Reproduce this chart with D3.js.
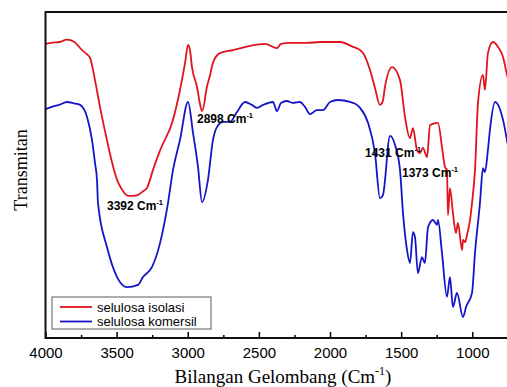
<!DOCTYPE html>
<html>
<head>
<meta charset="utf-8">
<script src="https://cdn.jsdelivr.net/npm/d3@7"></script>
<style>
  body { margin: 0; background: #fff; }
  svg { display: block; }
</style>
</head>
<body>
<div id="chart"></div>
<script>
// wavenumber (cm-1) and transmittance (a.u.)
const isolasiWn = [4000, 3950, 3900, 3849, 3800, 3743, 3708, 3687, 3652, 3617, 3568, 3533, 3497, 3462, 3420, 3385, 3350, 3315, 3287, 3266, 3252, 3195, 3104, 3055, 3019, 2998, 2985, 2970, 2935, 2915, 2900, 2880, 2872, 2844, 2823, 2774, 2682, 2563, 2457, 2373, 2345, 2281, 2162, 2071, 1930, 1839, 1789, 1768, 1719, 1684, 1649, 1630, 1614, 1564, 1508, 1473, 1438, 1417, 1389, 1368, 1347, 1318, 1297, 1241, 1213, 1192, 1178, 1171, 1157, 1136, 1115, 1101, 1072, 1065, 1051, 1037, 1016, 1002, 981, 960, 925, 911, 890, 855, 819, 784, 756, 720];
const isolasiT = [90.2, 90.6, 90.8, 91.5, 90.9, 88.3, 87.0, 85.9, 79.1, 70.9, 60.7, 54.0, 48.5, 45.5, 43.6, 43.6, 43.9, 45.0, 46.0, 48.5, 50.5, 57.5, 66.9, 76.0, 84.4, 89.9, 88.5, 83.0, 77.0, 72.0, 69.6, 73.0, 75.5, 80.5, 84.4, 87.4, 88.3, 89.6, 90.2, 88.9, 90.2, 90.5, 90.5, 90.8, 90.8, 89.3, 88.3, 87.4, 82.2, 76.7, 71.5, 72.5, 77.0, 83.1, 79.1, 67.8, 61.3, 64.4, 57.7, 56.7, 58.3, 55.5, 65.3, 66.0, 58.6, 52.5, 51.5, 37.7, 46.0, 38.3, 32.2, 35.3, 27.0, 30.1, 29.4, 31.6, 36.2, 41.4, 51.5, 72.1, 80.7, 76.1, 87.4, 90.8, 89.3, 86.2, 80.7, 74.0];

const komersilWn = [4000, 3950, 3900, 3849, 3800, 3757, 3708, 3673, 3652, 3638, 3631, 3568, 3497, 3427, 3350, 3315, 3251, 3195, 3139, 3104, 3055, 2998, 2963, 2928, 2900, 2858, 2823, 2795, 2753, 2703, 2654, 2598, 2549, 2513, 2471, 2401, 2373, 2345, 2303, 2261, 2212, 2176, 2141, 2092, 2050, 2000, 1944, 1860, 1811, 1789, 1733, 1684, 1649, 1628, 1578, 1543, 1508, 1487, 1459, 1438, 1417, 1403, 1382, 1354, 1333, 1311, 1276, 1248, 1241, 1213, 1178, 1157, 1136, 1108, 1065, 1044, 1002, 981, 946, 925, 911, 890, 876, 840, 784, 756, 720];
const komersilT = [70.2, 71.0, 71.6, 72.4, 72.0, 71.5, 67.8, 60.7, 53.7, 48.5, 41.4, 27.9, 18.7, 15.6, 16.3, 18.7, 21.8, 29.1, 41.4, 51.5, 60.7, 72.4, 62.9, 52.5, 41.7, 48.5, 60.7, 64.7, 66.3, 66.3, 69.3, 72.4, 71.5, 70.6, 71.5, 72.4, 69.6, 72.1, 72.7, 72.1, 72.4, 70.9, 68.7, 69.9, 69.9, 72.4, 73.0, 72.4, 71.5, 70.6, 66.0, 56.7, 42.9, 43.9, 62.0, 59.2, 51.5, 38.3, 27.0, 23.0, 32.5, 31.0, 19.9, 24.8, 23.0, 34.0, 36.2, 34.7, 36.2, 26.1, 12.6, 18.7, 9.5, 13.8, 6.4, 9.5, 13.8, 26.1, 41.4, 52.1, 50.9, 57.7, 63.8, 72.4, 66.9, 60.7, 52.0];

const seriesNames = ["selulosa isolasi", "selulosa komersil"];
const seriesColors = ["#e0141e", "#1414c8"];

const majorTicks = [4000, 3500, 3000, 2500, 2000, 1500, 1000];
const minorTicks = [3750, 3250, 2750, 2250, 1750, 1250];

// peak labels: wavenumber text + position in data units
const peakLabels = ["3392", "2898", "1431", "1373"];
const peakLabelWn = [3568, 2935, 1754, 1494];
const peakLabelT = [39.3, 66.0, 55.5, 49.4];

const width = 507, height = 387;
const plotLeft = 45.5, plotRight = 507, plotTop = 12, plotBottom = 338;

const svg = d3.select("#chart").append("svg")
  .attr("width", width)
  .attr("height", height);

const x = d3.scaleLinear().domain([4000, 756]).range([plotLeft, plotRight]);
const y = d3.scaleLinear().domain([0, 100]).range([plotBottom, plotTop]);

svg.append("clipPath").attr("id", "plot-clip")
  .append("rect")
  .attr("x", plotLeft).attr("y", plotTop)
  .attr("width", plotRight - plotLeft).attr("height", plotBottom - plotTop);

const line = d3.line()
  .x(d => x(d[0]))
  .y(d => y(d[1]))
  .curve(d3.curveMonotoneX);

const series = [
  d3.zip(isolasiWn, isolasiT),
  d3.zip(komersilWn, komersilT)
];

svg.append("g")
  .attr("clip-path", "url(#plot-clip)")
  .selectAll("path")
  .data(series)
  .join("path")
  .attr("fill", "none")
  .attr("stroke", (d, i) => seriesColors[i])
  .attr("stroke-width", 1.8)
  .attr("stroke-linejoin", "round")
  .attr("d", line);

// bottom axis, ticks pointing inward
const xAxis = svg.append("g")
  .attr("transform", `translate(0,${plotBottom})`)
  .call(d3.axisBottom(x).tickValues(majorTicks).tickFormat(d3.format("d"))
    .tickSizeInner(-6).tickSizeOuter(0).tickPadding(9));
xAxis.select(".domain").remove();
xAxis.selectAll(".tick line").attr("stroke", "#000").attr("stroke-width", 1.5);
xAxis.selectAll(".tick text")
  .attr("font-family", "Liberation Sans, Arial, sans-serif")
  .attr("font-size", 15)
  .attr("fill", "#000");

const xMinor = svg.append("g")
  .attr("transform", `translate(0,${plotBottom})`)
  .call(d3.axisBottom(x).tickValues(minorTicks).tickFormat("")
    .tickSizeInner(-3).tickSizeOuter(0));
xMinor.select(".domain").remove();
xMinor.selectAll(".tick line").attr("stroke", "#000").attr("stroke-width", 1.5);

// frame: left, bottom and top lines
svg.append("path")
  .attr("d", `M${plotRight},${plotTop}H${plotLeft}V${plotBottom}H${plotRight}`)
  .attr("fill", "none")
  .attr("stroke", "#111")
  .attr("stroke-width", 2);

// peak annotations
const ann = svg.append("g")
  .attr("font-family", "Liberation Sans, Arial, sans-serif")
  .attr("font-weight", "bold")
  .attr("fill", "#000");
peakLabels.forEach((lab, i) => {
  const t = ann.append("text")
    .attr("x", x(peakLabelWn[i]))
    .attr("y", y(peakLabelT[i]))
    .attr("font-size", 12);
  t.append("tspan").text(lab + " Cm");
  t.append("tspan").attr("font-size", 7.5).attr("dy", -5).text("-1");
});

// legend
const lg = svg.append("g").attr("transform", "translate(52,297)");
lg.append("rect")
  .attr("width", 159).attr("height", 32)
  .attr("fill", "#fff")
  .attr("stroke", "#777")
  .attr("stroke-width", 1.2);
seriesNames.forEach((name, i) => {
  const yy = 10 + i * 14.5;
  lg.append("line")
    .attr("x1", 8).attr("x2", 40)
    .attr("y1", yy).attr("y2", yy)
    .attr("stroke", seriesColors[i])
    .attr("stroke-width", 1.8);
  lg.append("text")
    .attr("x", 45).attr("y", yy + 4.5)
    .attr("font-family", "Liberation Sans, Arial, sans-serif")
    .attr("font-size", 13)
    .attr("fill", "#000")
    .text(name);
});

// axis titles
const xt = svg.append("text")
  .attr("x", 283).attr("y", 383)
  .attr("text-anchor", "middle")
  .attr("font-family", "Liberation Serif, Times New Roman, serif")
  .attr("font-size", 19)
  .attr("fill", "#000");
xt.append("tspan").text("Bilangan Gelombang (Cm");
xt.append("tspan").attr("font-size", 12).attr("dy", -8).text("-1");
xt.append("tspan").attr("dy", 8).text(")");

svg.append("text")
  .attr("transform", "translate(27,170) rotate(-90)")
  .attr("text-anchor", "middle")
  .attr("font-family", "Liberation Serif, Times New Roman, serif")
  .attr("font-size", 18)
  .attr("fill", "#000")
  .text("Transmitan");
</script>
</body>
</html>
